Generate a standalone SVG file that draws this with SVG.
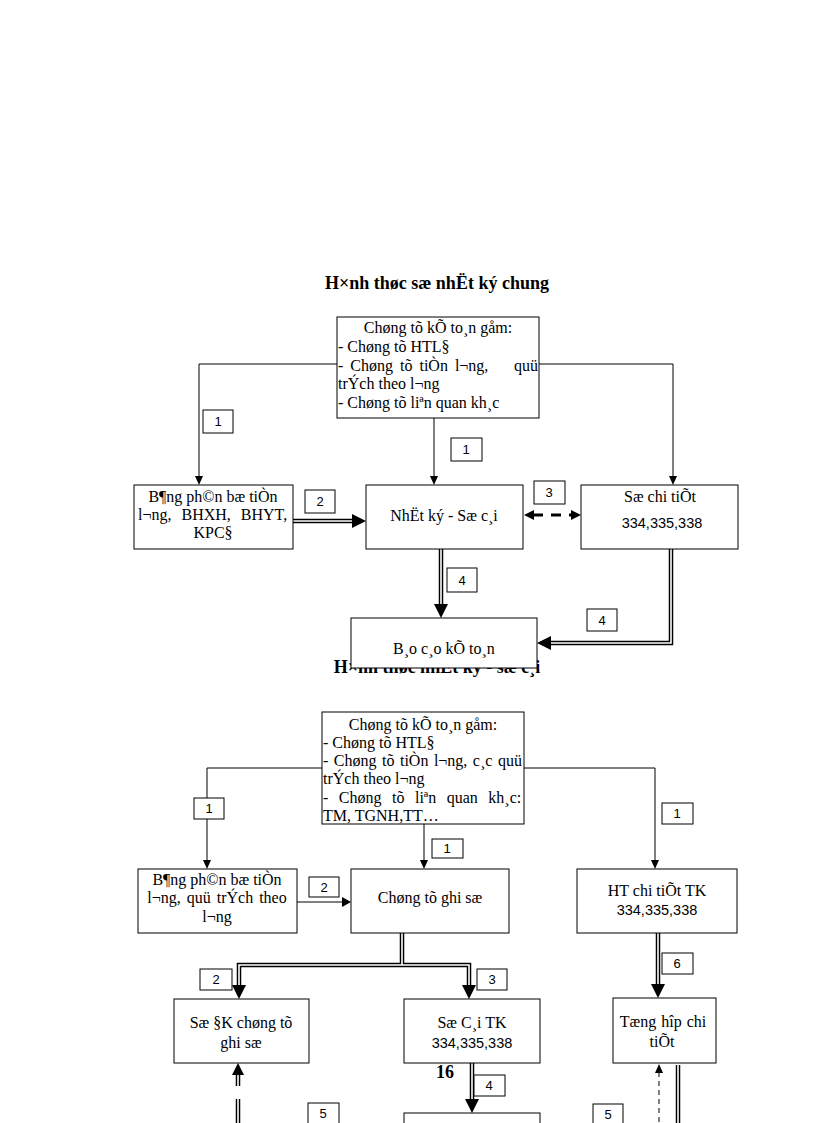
<svg xmlns="http://www.w3.org/2000/svg" width="816" height="1123" viewBox="0 0 816 1123">
<style>
text{font-family:"Liberation Serif","Times New Roman",serif;font-size:16px;fill:#000}
.c{text-anchor:middle}
.e{text-anchor:end}
.t{font-size:18px;font-weight:bold}
.n{font-family:"Liberation Sans",Arial,sans-serif;font-size:13px}
.num{font-family:"Liberation Sans",Arial,sans-serif;font-size:14.5px}
.box{fill:#fff;stroke:#000;stroke-width:1}
.lbl{fill:#fff;stroke:#000;stroke-width:1}
.ln{fill:none;stroke:#000;stroke-width:1}
.dO{fill:none;stroke:#000;stroke-width:4.5}
.dI{fill:none;stroke:#fff;stroke-width:1.6}
.ah{fill:#000}
</style>
<rect width="816" height="1123" fill="#fff"/>

<text class="t c" x="437" y="289">H×nh thøc sæ nhËt ký chung</text>
<text class="t c" x="437" y="673">H×nh thøc nhËt ký - sæ c¸i</text>

<g id="connectors">
  <path class="ln" d="M337,364 H199 V477"/>
  <polygon class="ah" points="199,485 195,476 203,476"/>
  <path class="ln" d="M539,364 H673 V477"/>
  <polygon class="ah" points="673,485 669,476 677,476"/>
  <path class="ln" d="M434,418 V477"/>
  <polygon class="ah" points="434,485 430,476 438,476"/>
  <path class="dO" d="M293,521 H353"/><path class="dI" d="M293,521 H354"/>
  <polygon class="ah" points="366,521 352,514 352,528"/>
  <line x1="533" y1="515" x2="572" y2="515" stroke="#000" stroke-width="3" stroke-dasharray="10,8"/>
  <polygon class="ah" points="524,515 534,510 534,520"/>
  <polygon class="ah" points="581,515 571,510 571,520"/>
  <path class="dO" d="M441,549 V606"/><path class="dI" d="M441,549 V607"/>
  <polygon class="ah" points="441,618 434,604 448,604"/>
  <path class="dO" d="M671,549 V643 H549"/><path class="dI" d="M671,549 V643 H548"/>
  <polygon class="ah" points="537,643 551,636 551,650"/>

  <path class="ln" d="M322,768 H207 V861"/>
  <polygon class="ah" points="207,869 203,860 211,860"/>
  <path class="ln" d="M524,768 H655 V861"/>
  <polygon class="ah" points="655,869 651,860 659,860"/>
  <path class="ln" d="M424,824 V861"/>
  <polygon class="ah" points="424,869 420,860 428,860"/>
  <path class="ln" d="M297,902 H343"/>
  <polygon class="ah" points="351,902 342,897 342,907"/>
  <path class="dO" d="M402,933 V965 M239,987 V965 H469 V987"/>
  <path class="dI" d="M402,933 V965 M239,988 V965 H469 V988"/>
  <polygon class="ah" points="239,999 232,985 246,985"/>
  <polygon class="ah" points="469,999 462,985 476,985"/>
  <path class="dO" d="M472,1063 V1101"/><path class="dI" d="M472,1063 V1102"/>
  <polygon class="ah" points="472,1113 465,1099 479,1099"/>
  <path class="dO" d="M658,933 V986"/><path class="dI" d="M658,933 V987"/>
  <polygon class="ah" points="658,998 651,984 665,984"/>
  <path class="dO" d="M238,1074 V1086 M238,1099 V1123"/>
  <path class="dI" d="M238,1073 V1086 M238,1099 V1123"/>
  <polygon class="ah" points="238,1063 232,1075 244,1075"/>
  <line x1="659" y1="1072" x2="659" y2="1123" stroke="#000" stroke-width="1" stroke-dasharray="5,4"/>
  <polygon class="ah" points="659,1064 655,1073 663,1073"/>
  <path class="dO" d="M678,1065 V1123"/><path class="dI" d="M678,1065 V1123"/>
</g>

<g id="labels">
  <rect class="lbl" x="203" y="410" width="30" height="23"/><text class="n c" x="218" y="426">1</text>
  <rect class="lbl" x="451" y="438" width="31" height="23"/><text class="n c" x="466" y="454">1</text>
  <rect class="lbl" x="305" y="490" width="30" height="23"/><text class="n c" x="320" y="506">2</text>
  <rect class="lbl" x="534" y="481" width="31" height="23"/><text class="n c" x="549" y="497">3</text>
  <rect class="lbl" x="447" y="568" width="30" height="24"/><text class="n c" x="462" y="585">4</text>
  <rect class="lbl" x="587" y="609" width="30" height="22"/><text class="n c" x="602" y="625">4</text>

  <rect class="lbl" x="194" y="798" width="30" height="21"/><text class="n c" x="209" y="813">1</text>
  <rect class="lbl" x="662" y="803" width="31" height="21"/><text class="n c" x="677" y="818">1</text>
  <rect class="lbl" x="432" y="839" width="31" height="19"/><text class="n c" x="447" y="853">1</text>
  <rect class="lbl" x="309" y="877" width="30" height="20"/><text class="n c" x="324" y="892">2</text>
  <rect class="lbl" x="200" y="969" width="32" height="21"/><text class="n c" x="216" y="984">2</text>
  <rect class="lbl" x="477" y="969" width="30" height="21"/><text class="n c" x="492" y="984">3</text>
  <rect class="lbl" x="662" y="953" width="31" height="21"/><text class="n c" x="677" y="968">6</text>
  <rect class="lbl" x="474" y="1075" width="31" height="21"/><text class="n c" x="489" y="1090">4</text>
  <rect class="lbl" x="308" y="1103" width="31" height="22"/><text class="n c" x="323" y="1118">5</text>
  <rect class="lbl" x="593" y="1104" width="30" height="21"/><text class="n c" x="608" y="1119">5</text>
</g>

<g id="n1-chungtu">
  <rect class="box" x="337" y="317" width="202" height="101"/>
  <text class="c" x="438" y="333">Chøng tõ kÕ to¸n gåm:</text>
  <text x="338" y="352">- Chøng tõ HTL§</text>
  <text x="338" y="371" word-spacing="3">- Chøng tõ tiÒn l¬ng,</text>
  <text class="e" x="538" y="371">quü</text>
  <text x="338" y="389">trÝch theo l¬ng</text>
  <text x="338" y="408">- Chøng tõ liªn quan kh¸c</text>
</g>
<g id="n1-bang">
  <rect class="box" x="134" y="485" width="159" height="64"/>
  <text class="c" x="213" y="502">B¶ng ph©n bæ tiÒn</text>
  <text x="138" y="520" word-spacing="6">l¬ng, BHXH, BHYT,</text>
  <text class="c" x="213" y="538">KPC§</text>
</g>
<g id="n1-nhatky">
  <rect class="box" x="366" y="485" width="157" height="64"/>
  <text class="c" x="444" y="521">NhËt ký - Sæ c¸i</text>
</g>
<g id="n1-sochitiet">
  <rect class="box" x="581" y="485" width="157" height="64"/>
  <text class="c" x="660" y="502">Sæ chi tiÕt</text>
  <text class="c num" x="662" y="528">334,335,338</text>
</g>
<g id="n1-baocao">
  <rect class="box" x="351" y="618" width="186" height="50"/>
  <text class="c" x="444" y="654">B¸o c¸o kÕ to¸n</text>
</g>

<g id="n2-chungtu">
  <rect class="box" x="322" y="712" width="202" height="112"/>
  <text class="c" x="423" y="730">Chøng tõ kÕ to¸n gåm:</text>
  <text x="323" y="748">- Chøng tõ HTL§</text>
  <text x="323" y="766" word-spacing="1.5">- Chøng tõ tiÒn l¬ng, c¸c quü</text>
  <text x="323" y="784">trÝch theo l¬ng</text>
  <text x="323" y="803" word-spacing="6.5">- Chøng tõ liªn quan kh¸c:</text>
  <text x="323" y="821">TM, TGNH,TT…</text>
</g>
<g id="n2-bang">
  <rect class="box" x="138" y="869" width="159" height="64"/>
  <text class="c" x="217" y="885">B¶ng ph©n bæ tiÒn</text>
  <text class="c" x="217" y="903" word-spacing="2">l¬ng, quü trÝch theo</text>
  <text class="c" x="217" y="922">l¬ng</text>
</g>
<g id="n2-ctgs">
  <rect class="box" x="351" y="869" width="158" height="64"/>
  <text class="c" x="430" y="903">Chøng tõ ghi sæ</text>
</g>
<g id="n2-htchitiet">
  <rect class="box" x="577" y="869" width="160" height="64"/>
  <text class="c" x="657" y="896">HT chi tiÕt TK</text>
  <text class="c num" x="657" y="915">334,335,338</text>
</g>
<g id="n2-sodk">
  <rect class="box" x="174" y="999" width="135" height="64"/>
  <text class="c" x="241" y="1028">Sæ §K chøng tõ</text>
  <text class="c" x="241" y="1048">ghi sæ</text>
</g>
<g id="n2-socai">
  <rect class="box" x="404" y="999" width="136" height="64"/>
  <text class="c" x="472" y="1028">Sæ C¸i TK</text>
  <text class="c num" x="472" y="1048">334,335,338</text>
</g>
<g id="n2-tonghop">
  <rect class="box" x="613" y="998" width="103" height="65"/>
  <text class="c" x="663" y="1027" word-spacing="1">Tæng hîp chi</text>
  <text class="c" x="662" y="1047">tiÕt</text>
</g>
<g id="n2-bottom">
  <rect class="box" x="404" y="1113" width="136" height="20"/>
</g>

<text x="436" y="1078" style="font-size:18px;font-weight:bold">16</text>
</svg>
